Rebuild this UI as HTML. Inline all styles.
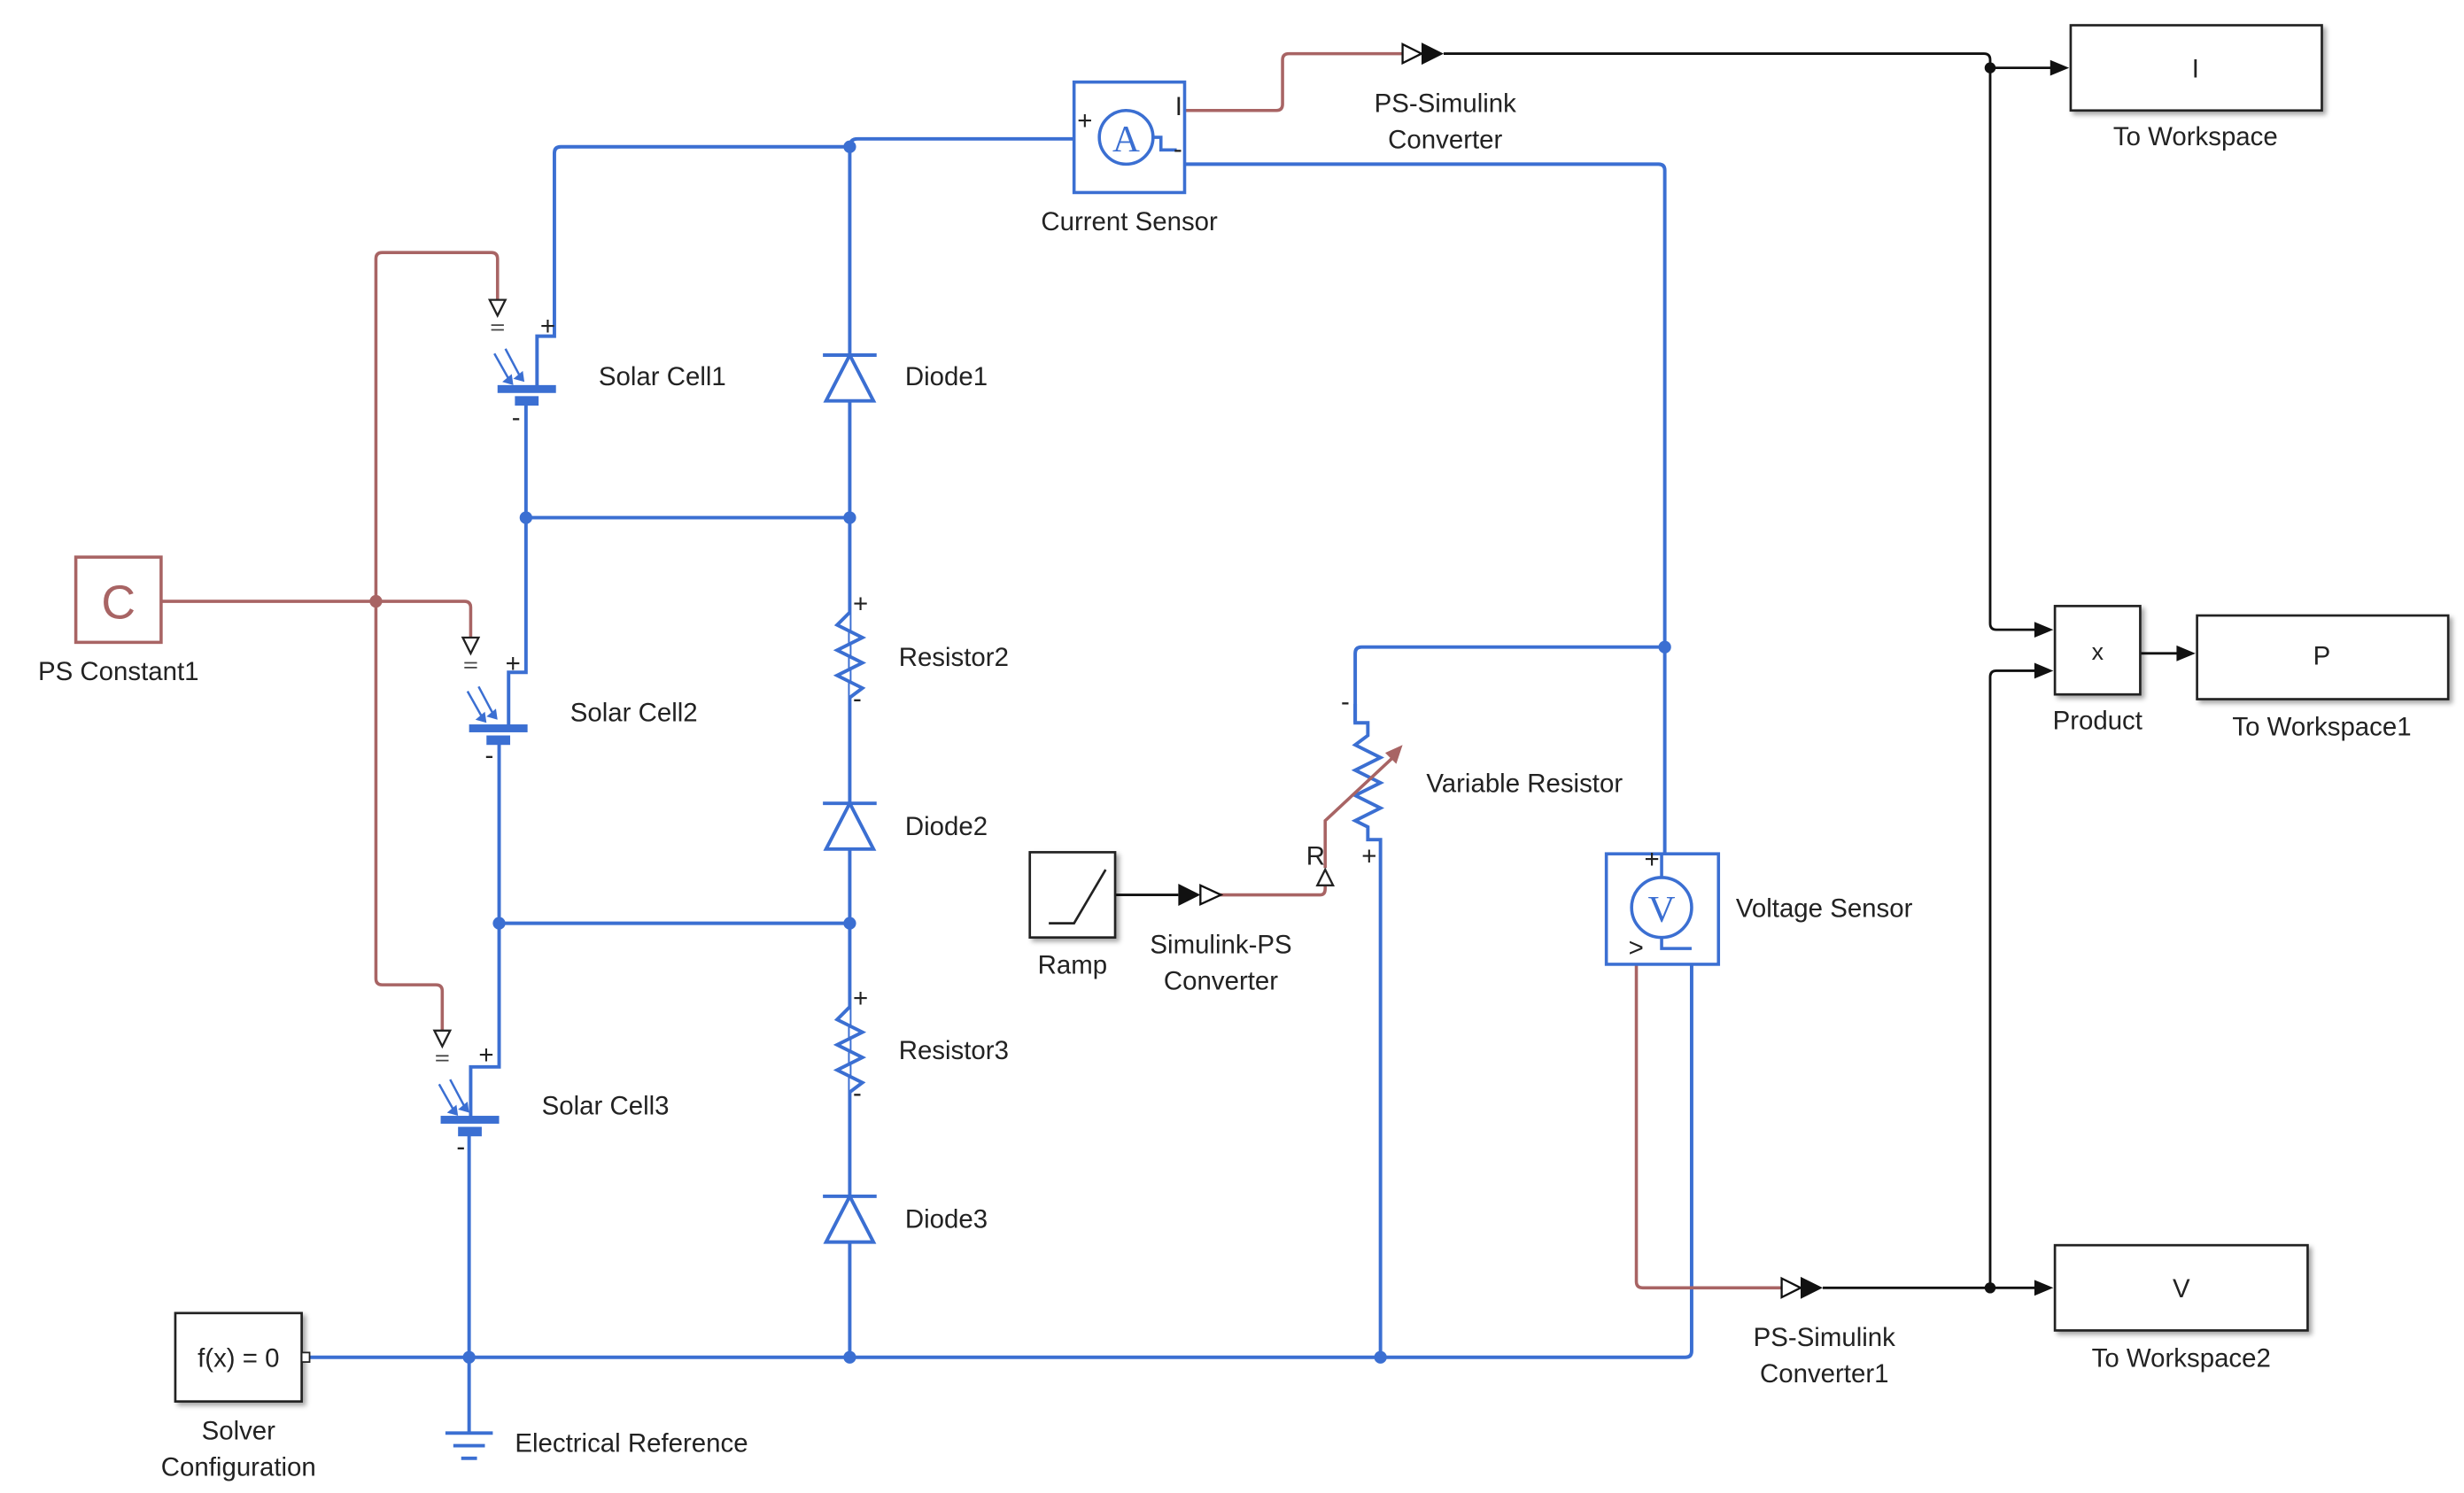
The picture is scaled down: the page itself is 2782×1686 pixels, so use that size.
<!DOCTYPE html>
<html><head><meta charset="utf-8"><style>
html,body{margin:0;padding:0;background:#fff;}
svg{display:block;}
text{font-family:"Liberation Sans",Arial,sans-serif;font-size:16.5px;fill:#222;}
</style></head><body>
<svg width="2782" height="1686" viewBox="0 0 1560 946" preserveAspectRatio="none" xmlns="http://www.w3.org/2000/svg">
<defs>
<filter id="sh" x="-10%" y="-10%" width="130%" height="130%"><feDropShadow dx="2" dy="2" stdDeviation="1.5" flood-color="#000" flood-opacity="0.35"/></filter>
</defs>
<g fill="none" stroke="#3b6fd2" stroke-width="2.2">
<path d="M340,246 V213 H351 V97 Q351,93 355,93 H538"/>
<path d="M538,93 Q538,88 543,88 H690"/>
<path d="M538,93 V860"/>
<path d="M333,256 V328 H538"/>
<path d="M322,461 V426 H333 V328"/>
<path d="M316,470 V585 H538"/>
<path d="M298,709 V676 H316 V585"/>
<path d="M297,718 V908"/>
<path d="M195,860 H1067 Q1071,860 1071,856 V601 H1054"/>
<path d="M740,88 H745 V104 H1050 Q1054,104 1054,108 V556"/>
<path d="M1054,410 H862 Q858,410 858,414 V458"/>
<path d="M858,446 V458 H866 V466 L858,472 L874,480 L858,488 L874,496 L858,504 L874,512 L858,520 L866,524 V532 H874 V860"/>
<path d="M538,388 L530,396 L546,404 L530,412 L546,420 L530,428 L546,436 L538,442" fill="#fff"/>
<path d="M538,638 L530,646 L546,654 L530,662 L546,670 L530,678 L546,686 L538,692" fill="#fff"/>
</g>
<g stroke="#3b6fd2" stroke-width="2.2" fill="#fff">
<path d="M538,225 L523,254 H553 Z"/><path d="M521,225 H555"/>
<path d="M538,509 L523,538 H553 Z"/><path d="M521,509 H555"/>
<path d="M538,758 L523,787 H553 Z"/><path d="M521,758 H555"/>
</g>
<g fill="#3b6fd2">
<rect x="315" y="244" width="37" height="5"/><rect x="326" y="251" width="15" height="6"/>
<rect x="297" y="459" width="37" height="5"/><rect x="308" y="466" width="15" height="6"/>
<rect x="279" y="707" width="37" height="5"/><rect x="290" y="714" width="15" height="6"/>
<circle cx="538" cy="93" r="4"/><circle cx="333" cy="328" r="4"/><circle cx="538" cy="328" r="4"/>
<circle cx="316" cy="585" r="4"/><circle cx="538" cy="585" r="4"/>
<circle cx="297" cy="860" r="4"/><circle cx="538" cy="860" r="4"/><circle cx="874" cy="860" r="4"/>
<circle cx="1054" cy="410" r="4"/>
</g>
<g stroke="#3b6fd2" stroke-width="1.4" fill="#3b6fd2">
<path d="M313,224 L322,240"/><path d="M320,221 L329,238"/>
<path d="M296,438 L305,454"/><path d="M303,435 L312,452"/>
<path d="M278,687 L287,703"/><path d="M285,684 L294,701"/>
</g>
<g fill="#3b6fd2">
<path d="M318,242 L325,244 L324,237 Z"/><path d="M325,240 L332,242 L331,235 Z"/>
<path d="M301,456 L308,458 L307,451 Z"/><path d="M308,454 L315,456 L314,449 Z"/>
<path d="M283,705 L290,707 L289,700 Z"/><path d="M290,703 L297,705 L296,698 Z"/>
</g>
<g stroke="#3b6fd2" stroke-width="2.2">
<path d="M282,908 H312"/><path d="M287,916 H307"/><path d="M292,924 H302"/>
</g>
<g fill="none" stroke="#a86464" stroke-width="2">
<path d="M315,190 V164 Q315,160 311,160 H242 Q238,160 238,164 V620 Q238,624 242,624 H276 Q280,624 280,628 V653"/>
<path d="M102,381 H294 Q298,381 298,385 V404"/>
<path d="M750,70 H808 Q812,70 812,66 V38 Q812,34 816,34 H888"/>
<path d="M771,567 H836 Q839,567 839,563 V560"/>
<path d="M839,550 V520 L884,478"/>
<path d="M1036,607 V812 Q1036,816 1040,816 H1128"/>
</g>
<path d="M888,472 L877,477 L884,484 Z" fill="#a86464"/>
<circle cx="238" cy="381" r="4" fill="#a86464"/>
<rect x="48" y="353" width="54" height="54" fill="#fff" stroke="#a86464" stroke-width="2"/>
<text x="75" y="392" text-anchor="middle" style="font-size:30px;fill:#a86464">C</text>
<g fill="#fff" stroke="#222" stroke-width="1.3">
<path d="M310,190 H320 L315,200 Z"/><path d="M293,404 H303 L298,414 Z"/><path d="M275,653 H285 L280,663 Z"/>
<path d="M834,561 H844 L839,551 Z"/>
</g>
<g stroke="#444" stroke-width="1"><path d="M311,206 H319 M311,209 H319"/><path d="M294,420 H302 M294,423 H302"/><path d="M276,669 H284 M276,672 H284"/></g>
<rect x="680" y="52" width="70" height="70" fill="#fff" stroke="#3b6fd2" stroke-width="2"/>
<circle cx="713" cy="87" r="17" fill="none" stroke="#3b6fd2" stroke-width="2"/>
<path d="M730,87 H735 V95 H745" fill="none" stroke="#3b6fd2" stroke-width="2"/>
<text x="713" y="96" text-anchor="middle" style="font-size:24px;fill:#3b6fd2;font-family:'Liberation Serif',serif">A</text>
<rect x="1017" y="541" width="71" height="70" fill="#fff" stroke="#3b6fd2" stroke-width="2"/>
<circle cx="1052" cy="575" r="19" fill="none" stroke="#3b6fd2" stroke-width="2"/>
<path d="M1052,541 V556 M1052,594 V601 H1071" fill="none" stroke="#3b6fd2" stroke-width="2"/>
<text x="1052" y="584" text-anchor="middle" style="font-size:24px;fill:#3b6fd2;font-family:'Liberation Serif',serif">V</text>
<g style="font-size:6.5px;fill:#777">
<text x="342" y="212">+</text><text x="324" y="270">-</text>
<text x="320" y="426">+</text><text x="307" y="484">-</text>
<text x="303" y="674">+</text><text x="289" y="732">-</text>
<text x="540" y="388">+</text><text x="540" y="448">-</text>
<text x="540" y="638">+</text><text x="540" y="698">-</text>
<text x="682" y="82">+</text><text x="744" y="73">I</text><text x="743" y="100">-</text>
<text x="849" y="450">-</text><text x="862" y="548">+</text><text x="827" y="548">R</text>
<text x="1041" y="550">+</text><text x="1031" y="606">&gt;</text>
</g>
<g fill="none" stroke="#111" stroke-width="1.6">
<path d="M914,34 H1256 Q1260,34 1260,38 V395 Q1260,399 1264,399 H1290"/>
<path d="M1260,43 H1300"/>
<path d="M1154,816 H1290"/>
<path d="M1260,816 V429 Q1260,425 1264,425 H1290"/>
<path d="M1355,414 H1380"/>
<path d="M706,567 H746"/>
</g>
<g fill="#111">
<circle cx="1260" cy="43" r="3.5"/><circle cx="1260" cy="816" r="3.5"/>
<path d="M1298,38 L1310,43 L1298,48 Z"/>
<path d="M1288,394 L1300,399 L1288,404 Z"/><path d="M1288,420 L1300,425 L1288,430 Z"/>
<path d="M1378,409 L1390,414 L1378,419 Z"/>
<path d="M1288,811 L1300,816 L1288,821 Z"/>
<path d="M900,27 L914,34 L900,41 Z"/><path d="M1140,809 L1154,816 L1140,823 Z"/>
<path d="M746,560 L760,567 L746,574 Z"/>
</g>
<g fill="#fff" stroke="#111" stroke-width="1.3">
<path d="M888,28 L900,34 L888,40 Z"/><path d="M1128,810 L1140,816 L1128,822 Z"/>
<path d="M760,561 L773,567 L760,573 Z"/>
</g>
<g fill="#fff" stroke="#222" stroke-width="1.5" filter="url(#sh)">
<rect x="1311" y="16" width="159" height="54"/>
<rect x="1301" y="384" width="54" height="56"/>
<rect x="1391" y="390" width="159" height="53"/>
<rect x="1301" y="789" width="160" height="54"/>
<rect x="111" y="832" width="80" height="56"/>
<rect x="652" y="540" width="54" height="54"/>
</g>
<rect x="191" y="857" width="5" height="6" fill="#fff" stroke="#222" stroke-width="1"/>
<path d="M664,585 H680 L700,551" fill="none" stroke="#222" stroke-width="1.5"/>
<g style="font-size:20px">
<text x="1390" y="49" text-anchor="middle">I</text>
<text x="1328" y="418" text-anchor="middle" style="font-size:15px">x</text>
<text x="1470" y="421" text-anchor="middle">P</text>
<text x="1381" y="822" text-anchor="middle">V</text>
</g>
<text x="151" y="866" text-anchor="middle">f(x) = 0</text>
<text x="1390" y="92" text-anchor="middle">To Workspace</text>
<text x="915" y="71" text-anchor="middle">PS-Simulink</text>
<text x="915" y="94" text-anchor="middle">Converter</text>
<text x="715" y="146" text-anchor="middle">Current Sensor</text>
<text x="379" y="244">Solar Cell1</text>
<text x="573" y="244">Diode1</text>
<text x="75" y="431" text-anchor="middle">PS Constant1</text>
<text x="569" y="422">Resistor2</text>
<text x="361" y="457">Solar Cell2</text>
<text x="1328" y="462" text-anchor="middle">Product</text>
<text x="1470" y="466" text-anchor="middle">To Workspace1</text>
<text x="903" y="502">Variable Resistor</text>
<text x="573" y="529">Diode2</text>
<text x="1099" y="581">Voltage Sensor</text>
<text x="679" y="617" text-anchor="middle">Ramp</text>
<text x="773" y="604" text-anchor="middle">Simulink-PS</text>
<text x="773" y="627" text-anchor="middle">Converter</text>
<text x="569" y="671">Resistor3</text>
<text x="343" y="706">Solar Cell3</text>
<text x="573" y="778">Diode3</text>
<text x="1155" y="853" text-anchor="middle">PS-Simulink</text>
<text x="1155" y="876" text-anchor="middle">Converter1</text>
<text x="1381" y="866" text-anchor="middle">To Workspace2</text>
<text x="151" y="912" text-anchor="middle">Solver</text>
<text x="151" y="935" text-anchor="middle">Configuration</text>
<text x="326" y="920">Electrical Reference</text>
</svg>
</body></html>
